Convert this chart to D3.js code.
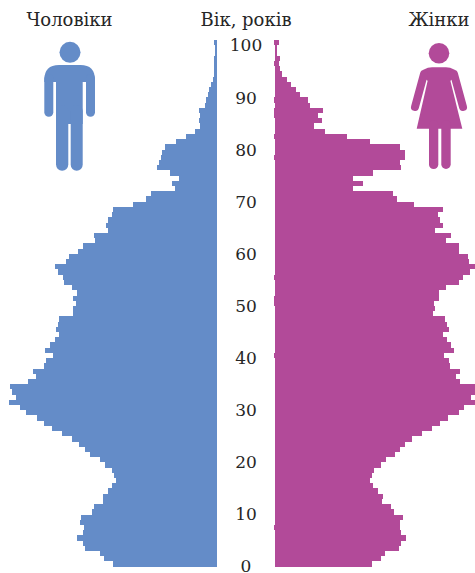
<!DOCTYPE html>
<html>
<head>
<meta charset="utf-8">
<script src="https://cdn.jsdelivr.net/npm/d3@7"></script>
<style>
  html, body { margin: 0; padding: 0; background: white; }
  text { font-family: "DejaVu Serif", serif; fill: #262626; }
</style>
</head>
<body>
<div id="chart"></div>
<script>
// thousands of people by single year of age, index = age
const maleValues = [
    208,226,234,264,268,280,268,266,274,272,
    250,246,228,228,218,210,202,206,210,224,
    234,254,264,276,290,310,330,346,360,382,
    394,416,402,410,414,378,362,368,346,342,
    328,344,334,324,316,322,318,316,288,288,
    282,288,280,290,306,308,318,324,302,296,
    278,268,244,246,218,222,218,210,208,168,
    142,132,84,90,76,94,120,116,112,110,
    104,82,62,44,34,36,34,36,24,22,
    18,16,12,8,6,6,6,6,4,4,
    6
]
const femaleValues = [
    194,212,220,248,252,262,252,250,250,256,
    238,232,214,216,206,196,190,194,198,212,
    222,240,250,260,274,294,314,330,346,368,
    378,400,392,400,400,370,362,370,350,348,
    338,358,352,344,336,348,344,340,316,320,
    318,328,328,342,368,376,390,400,388,386,
    368,368,342,352,320,336,330,326,336,278,
    244,236,156,176,156,196,252,250,260,260,
    250,190,144,100,78,94,86,96,70,66,
    50,42,32,24,14,10,8,10,4,4,
    8
]
// ages where the female bar spills a little over the baseline in the scan
const femaleSpillAges = [7, 40, 50, 51, 55, 78, 82, 86, 87, 89, 96, 100]
const ageTicks = [0, 10, 20, 30, 40, 50, 60, 70, 80, 90, 100]
const labels = { male: "Чоловіки", age: "Вік, років", female: "Жінки" }

const sizing = { width: 475, height: 573 }
const colors = { male: "#648cc8", female: "#b24a99" }

const ages = d3.range(maleValues.length)

const svg = d3.select("#chart").append("svg")
    .attr("width", sizing.width)
    .attr("height", sizing.height)
    .style("display", "block")

const y = d3.scaleBand().domain(ages).range([566.7, 40])
const yTicks = d3.scaleLinear().domain([0, 100]).range([566, 45.5])
const xMale = d3.scaleLinear().domain([0, 400]).range([217, 17])
const xFemale = d3.scaleLinear().domain([0, 400]).range([275, 475])

svg.append("g").selectAll("rect")
    .data(maleValues)
    .join("rect")
    .attr("x", d => xMale(d))
    .attr("y", (d, i) => y(i))
    .attr("width", d => xMale(0) - xMale(d))
    .attr("height", y.bandwidth())
    .attr("fill", colors.male)
    .attr("shape-rendering", "crispEdges")

svg.append("g").selectAll("rect")
    .data(femaleValues)
    .join("rect")
    .attr("x", (d, i) => femaleSpillAges.includes(i) ? xFemale(-2) : xFemale(0))
    .attr("y", (d, i) => y(i))
    .attr("width", (d, i) => xFemale(d) - (femaleSpillAges.includes(i) ? xFemale(-2) : xFemale(0)))
    .attr("height", y.bandwidth())
    .attr("fill", colors.female)
    .attr("shape-rendering", "crispEdges")

const ageAxis = d3.axisLeft(yTicks).tickValues(ageTicks).tickSize(0).tickPadding(0)
const axisGroup = svg.append("g")
    .attr("transform", "translate(246,0)")
    .call(ageAxis)
axisGroup.select(".domain").remove()
axisGroup.selectAll("text")
    .attr("text-anchor", "middle")
    .attr("x", 0)
    .style("font-family", '"DejaVu Serif", serif')
    .style("font-size", "17px")
    .style("fill", "#262626")

const titles = [
    { text: labels.male, x: 69.5, y: 26 },
    { text: labels.age, x: 246, y: 26 },
    { text: labels.female, x: 439, y: 26 }
]
svg.append("g").selectAll("text")
    .data(titles)
    .join("text")
    .attr("x", d => d.x)
    .attr("y", d => d.y)
    .attr("text-anchor", "middle")
    .style("font-size", "18px")
    .text(d => d.text)

// man icon
const man = svg.append("g").attr("fill", colors.male)
man.append("circle").attr("cx", 70).attr("cy", 52.3).attr("r", 10.5)
man.append("path").attr("d", "M44.3 80 Q44.3 65 59 65 H80.5 Q95 65 95 80 V82 H44.3 Z")
man.append("rect").attr("x", 44.3).attr("y", 74).attr("width", 9).attr("height", 42.7).attr("rx", 4.5)
man.append("rect").attr("x", 86).attr("y", 74).attr("width", 9).attr("height", 42.7).attr("rx", 4.5)
man.append("rect").attr("x", 56).attr("y", 74).attr("width", 26.7).attr("height", 50)
man.append("rect").attr("x", 56).attr("y", 105).attr("width", 12.3).attr("height", 65.7).attr("rx", 6.1)
man.append("rect").attr("x", 70.7).attr("y", 105).attr("width", 12).attr("height", 65.7).attr("rx", 6)

// woman icon
const woman = svg.append("g").attr("fill", colors.female)
woman.append("circle").attr("cx", 439).attr("cy", 53.3).attr("r", 10.3)
woman.append("path").attr("d", "M420 75 Q423 67.3 432 67.3 H446 Q455 67.3 458 75 L450 81 H428 Z")
woman.append("path").attr("d", "M428.3 78 H449.7 L462.3 128.7 H416.7 Z")
woman.append("line").attr("x1", 424).attr("y1", 74).attr("x2", 415).attr("y2", 107)
    .attr("stroke", colors.female).attr("stroke-width", 8).attr("stroke-linecap", "round")
woman.append("line").attr("x1", 454).attr("y1", 74).attr("x2", 463).attr("y2", 107)
    .attr("stroke", colors.female).attr("stroke-width", 8).attr("stroke-linecap", "round")
woman.append("rect").attr("x", 429).attr("y", 120).attr("width", 9.3).attr("height", 49).attr("rx", 4.6)
woman.append("rect").attr("x", 441.3).attr("y", 120).attr("width", 9.4).attr("height", 49).attr("rx", 4.7)
</script>
</body>
</html>
